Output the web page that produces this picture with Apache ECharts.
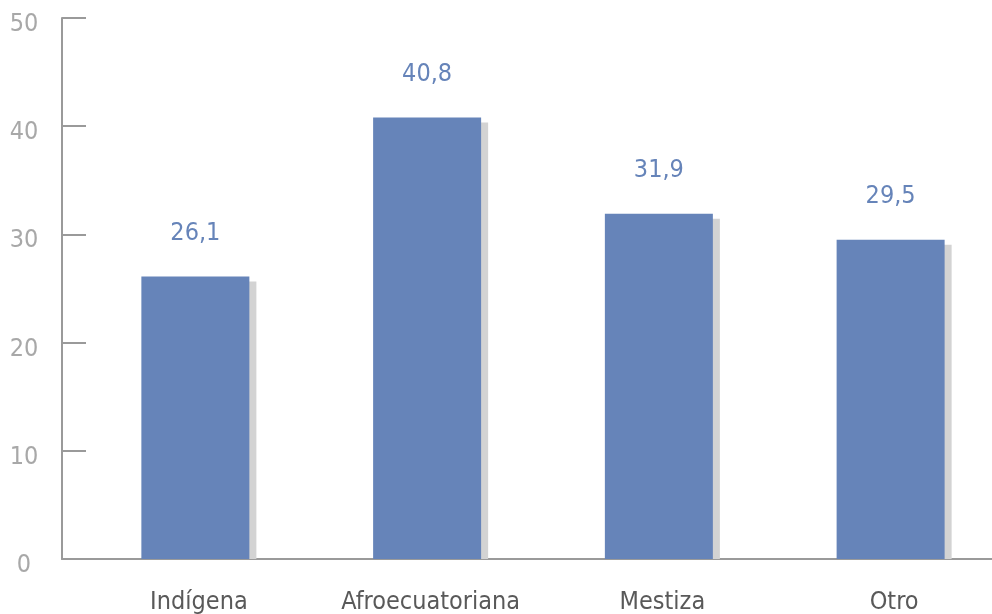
<!DOCTYPE html>
<html><head><meta charset="utf-8">
<script src="https://cdn.jsdelivr.net/npm/echarts@6/dist/echarts.min.js"></script>
<style>html,body{margin:0;padding:0;background:#fff}#c{width:992px;height:614px}</style>
</head><body><div id="c"></div>
<script>
const categories = ['Indígena', 'Afroecuatoriana', 'Mestiza', 'Otro'];
const values = [26.1, 40.8, 31.9, 29.5];
const yTicks = [0, 10, 20, 30, 40, 50];
const shadowDrop = 0.46; // visual drop of the grey bar shadow, in axis units

const FONT = '"DejaVu Sans Condensed", "DejaVu Sans", sans-serif';
const BLUE = '#6684b9';
const chart = echarts.init(document.getElementById('c'), null, {renderer: 'canvas'});
chart.setOption({
  animation: false,
  grid: [
    {left: 62, right: 0, top: 18, bottom: 55, outerBoundsMode: 'none', containLabel: false},
    {left: 83, width: 927, top: 18, bottom: 55, outerBoundsMode: 'none', containLabel: false}
  ],
  xAxis: [
    {gridIndex: 0, type: 'value', min: 0, max: 1, axisLine: {show: true, lineStyle: {color: '#9a9a9a', width: 2}},
     axisTick: {show: false}, axisLabel: {show: false}, splitLine: {show: false}},
    {gridIndex: 1, type: 'category', data: categories, axisLine: {show: false}, axisTick: {show: false},
     axisLabel: {interval: 0, color: '#595959', fontFamily: FONT, fontSize: 25, margin: 31}}
  ],
  yAxis: [
    {gridIndex: 0, type: 'value', min: yTicks[0], max: yTicks[yTicks.length - 1], interval: 10,
     axisLine: {show: true, lineStyle: {color: '#9a9a9a', width: 2}},
     axisTick: {show: true, inside: true, length: 24, lineStyle: {color: '#9a9a9a', width: 2}},
     axisLabel: {color: '#a8a8a8', fontFamily: FONT, fontSize: 25, margin: 38, align: 'center',
       verticalAlign: 'top', lineHeight: 13},
     splitLine: {show: false}},
    {gridIndex: 1, type: 'value', min: yTicks[0], max: yTicks[yTicks.length - 1], show: false}
  ],
  series: [
    {type: 'bar', xAxisIndex: 1, yAxisIndex: 1, data: values, barWidth: 108, z: 3,
     itemStyle: {color: BLUE},
     label: {show: true, position: 'top', distance: 31, color: BLUE, fontFamily: FONT, fontSize: 25,
       formatter: p => p.value.toFixed(1).replace('.', ',')}},
    {type: 'bar', xAxisIndex: 1, yAxisIndex: 1, data: values.map(v => v - shadowDrop), barWidth: 108,
     barGap: '-93.5%', z: 1, silent: true, itemStyle: {color: '#d3d3d3'}}
  ]
});
</script></body></html>
